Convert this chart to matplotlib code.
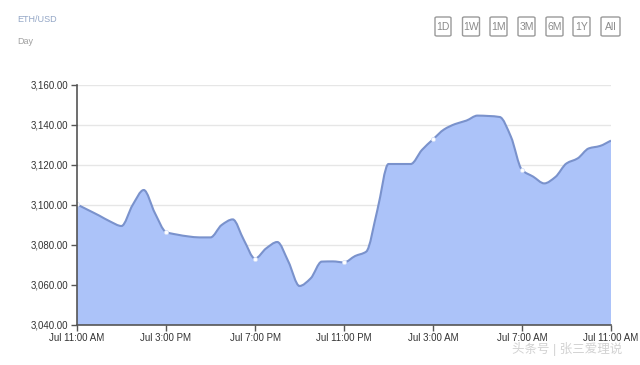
import numpy as np
import matplotlib
matplotlib.use("Agg")
import matplotlib.pyplot as plt
from matplotlib.patches import FancyBboxPatch, PathPatch
from matplotlib.path import Path

plt.rcParams["font.family"] = ["Liberation Sans", "Noto Sans CJK SC", "DejaVu Sans"]

# ETH/USD price, one reading every half hour (hours since Jul 11:00 AM)
hours = np.arange(0, 24.5, 0.5)
price = [3100.3, 3097.5, 3094.7, 3091.7, 3089.5, 3100.0, 3107.5, 3096.0,
         3086.5, 3085.2, 3084.3, 3083.8, 3083.8, 3090.0, 3092.8, 3082.5,
         3073.2, 3078.3, 3081.5, 3071.7, 3059.5, 3063.3, 3071.7, 3071.8,
         3071.3, 3074.5, 3076.7, 3097.5, 3120.5, 3120.5, 3120.5, 3127.5,
         3132.8, 3137.8, 3140.5, 3142.2, 3144.7, 3144.5, 3144.0, 3134.2,
         3117.5, 3114.2, 3110.8, 3114.0, 3120.8, 3123.3, 3128.3, 3129.5,
         3132.2]

tick_hours = [0, 4, 8, 12, 16, 20, 24]
tick_labels = ["Jul 11:00 AM", "Jul 3:00 PM", "Jul 7:00 PM", "Jul 11:00 PM",
               "Jul 3:00 AM", "Jul 7:00 AM", "Jul 11:00 AM"]
y_ticks = [3040, 3060, 3080, 3100, 3120, 3140, 3160]
buttons = ["1D", "1W", "1M", "3M", "6M", "1Y", "All"]


def monotone_path(x, y):
    # smooth curve through the points (monotone cubic, drawn as bezier)
    x = np.asarray(x, float)
    y = np.asarray(y, float)
    h = np.diff(x)
    d = np.diff(y) / h
    m = np.zeros_like(y)
    m[0], m[-1] = d[0], d[-1]
    for i in range(1, len(y) - 1):
        if d[i - 1] * d[i] <= 0:
            m[i] = 0
        else:
            w1 = 2 * h[i] + h[i - 1]
            w2 = h[i] + 2 * h[i - 1]
            m[i] = (w1 + w2) / (w1 / d[i - 1] + w2 / d[i])
    verts = [(x[0], y[0])]
    codes = [Path.MOVETO]
    for i in range(len(x) - 1):
        verts += [(x[i] + h[i] / 3, y[i] + m[i] * h[i] / 3),
                  (x[i + 1] - h[i] / 3, y[i + 1] - m[i + 1] * h[i] / 3),
                  (x[i + 1], y[i + 1])]
        codes += [Path.CURVE4] * 3
    return verts, codes


fig = plt.figure(figsize=(6.4, 3.65), dpi=100)
ax = fig.add_axes([77 / 640, 1 - 325 / 365, 534 / 640, 240 / 365])

verts, codes = monotone_path(hours, price)
area = PathPatch(Path([(hours[0], 3040)] + verts + [(hours[-1], 3040), (0, 0)],
                      [Path.MOVETO, Path.LINETO] + codes[1:] +
                      [Path.LINETO, Path.CLOSEPOLY]),
                 fc="#acc3f9", lw=0, zorder=2)
ax.add_patch(area)
line = PathPatch(Path(verts, codes), fc="none", ec="#7a92cc", lw=1.5,
                 zorder=3)
ax.add_patch(line)

# white dots at the labelled hours
marks = [price[list(hours).index(h)] for h in tick_hours[:-1]]
ax.plot(tick_hours[:-1], marks, "o", ms=3, mfc="white", mec="#d0dcf7",
        mew=0.5, zorder=4)

ax.set_xlim(0, 24)
ax.set_ylim(3040, 3160)
ax.set_yticks(y_ticks)
ax.set_yticklabels([f"{v:,.2f}" for v in y_ticks])
ax.set_xticks(tick_hours)
ax.set_xticklabels(tick_labels)
ax.tick_params(labelsize=7, length=4, width=1, pad=2, colors="#555555",
               labelcolor="#333333")

ax.grid(axis="y", color="#e6e6e6", lw=1)
ax.set_axisbelow(True)
for s in ["top", "right"]:
    ax.spines[s].set_visible(False)
for s in ["left", "bottom"]:
    ax.spines[s].set_color("#555555")
    ax.spines[s].set_linewidth(1.2)
    ax.spines[s].set_zorder(5)

fig.text(17 / 640, 1 - 19 / 365, "ETH/USD", fontsize=6.5, color="#93a6c6",
         va="center")
fig.text(17 / 640, 1 - 42 / 365, "Day", fontsize=6.5, color="#a0a0a0",
         va="center")

# range buttons top right
bx = [435, 462.5, 490, 518, 546, 573, 601]
bw = [16, 17, 17, 17, 17, 17, 19]
for x0, w, lab in zip(bx, bw, buttons):
    box = FancyBboxPatch((x0 / 640, 1 - 36 / 365), w / 640, 19 / 365,
                         boxstyle="round,pad=0,rounding_size=0.003",
                         transform=fig.transFigure, fc="white",
                         ec="#9a9a9a", lw=1)
    fig.patches.append(box)
    fig.text((x0 + w / 2) / 640, 1 - 26.5 / 365, lab, fontsize=7.5,
             color="#8a8a8a", ha="center", va="center")

# watermark
fig.text(512 / 640, 1 - 349 / 365, "头条号 | 张三爱理说", fontsize=9,
         color="#d2d2d2", va="center")

fig.savefig("out.png", dpi=100)
